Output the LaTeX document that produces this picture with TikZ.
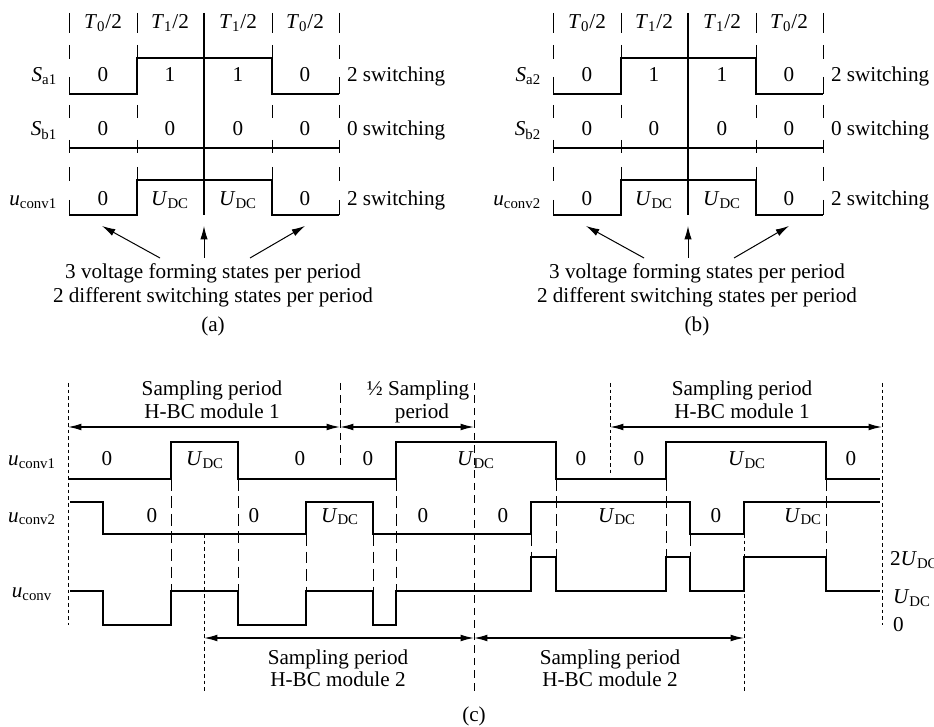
\documentclass[tikz,border=0pt]{standalone}
\usepackage{fontspec}
\setmainfont{Liberation Serif}
\usetikzlibrary{arrows.meta}

\newcommand{\ital}[2]{\textit{#1}\textsubscript{#2}}
\newcommand{\Udc}{\ital{U}{DC}}

\tikzset{
  wave/.style={line width=0.75pt},
  bound/.style={line width=0.6pt},
  lbl/.style={font=\fontsize{12.7}{15}\selectfont, inner sep=1pt, anchor=base},
  ldash/.style={line width=0.6pt, dash pattern=on 7pt off 3.5pt},
  mdash/.style={line width=0.6pt, dash pattern=on 4.5pt off 3pt},
  sdash/.style={line width=0.5pt, dash pattern=on 2.2pt off 1.8pt},
  period/.style={line width=0.75pt, {Latex[length=8pt,width=4pt]}-{Latex[length=8pt,width=4pt]}},
  pointer/.style={line width=0.6pt, -{Latex[length=8pt,width=4.4pt]}}
}

\begin{document}
\begin{tikzpicture}[x=0.6pt, y=-0.6pt]
    \useasboundingbox (0,0) rectangle (934,727);

    % Panels (a) and (b): one switching period
    \foreach \dx/\k/\pn in {0/1/a, 484/2/b}{
    \begin{scope}[shift={(\dx,0)}]
        % column boundaries
        \foreach \x in {69,137,272,339}{
            \draw[bound] (\x,13) -- (\x,33);
            \foreach \ya/\yb/\yc/\yd in {45/59/77/94, 105/118/140/153, 167/181/200/215}
                \draw[bound] (\x,\ya) -- (\x,\yb) (\x,\yc) -- (\x,\yd);
        }
        \draw[wave] (204,13) -- (204,215);

        % header
        \foreach \x/\t in {103/0,170/1,238/1,305/0}
            \node[lbl] (hd\pn\x) at (\x,29) {\ital{T}{\t}/2};

        % switching signals and output voltage
        \draw[wave] (69,94) -- (137,94) -- (137,58) -- (272,58) -- (272,94) -- (339,94);
        \draw[wave] (69,148) -- (339,148);
        \draw[wave] (69,215) -- (137,215) -- (137,180) -- (272,180) -- (272,215) -- (339,215);

        \node[lbl, anchor=base east] (Sa\pn) at (59,82) {\ital{S}{a\k}};
        \node[lbl, anchor=base east] (Sb\pn) at (59,136) {\ital{S}{b\k}};
        \node[lbl, anchor=base east] (uc\pn) at (59,206) {\ital{u}{conv\k}};

        \foreach \x/\v in {103/0,170/1,238/1,305/0}
            \node[lbl] (va\pn\x) at (\x,82) {\v};
        \foreach \x in {103,170,238,305}
            \node[lbl] (vb\pn\x) at (\x,136) {0};
        \foreach \x/\v in {103/0,170/\Udc,238/\Udc,305/0}
            \node[lbl] (vu\pn\x) at (\x,206) {\v};

        \node[lbl, anchor=base west] (swa\pn) at (345,82) {2 switching};
        \node[lbl, anchor=base west] (swb\pn) at (345,136) {0 switching};
        \node[lbl, anchor=base west] (swu\pn) at (345,206) {2 switching};

        % caption and pointers
        \node[lbl] (capa\pn) at (213,279) {3 voltage forming states per period};
        \node[lbl] (capb\pn) at (213,303) {2 different switching states per period};
        \node[lbl] (tag\pn) at (213,332) {(\pn)};

        \coordinate (tl\pn) at (160,258);
        \coordinate (tc\pn) at (204,258);
        \coordinate (tr\pn) at (250,258);
        \coordinate (hl\pn) at (102,226);
        \coordinate (hc\pn) at (204,226);
        \coordinate (hr\pn) at (305,226);
        \draw[pointer] (tl\pn) -- (hl\pn);
        \draw[pointer] (tc\pn) -- (hc\pn);
        \draw[pointer] (tr\pn) -- (hr\pn);
    \end{scope}
    }

    % Panel (c): interleaved modules
    % sampling period boundaries
    \draw[sdash] (68,383) -- (68,625);
    \draw[mdash] (340,383) -- (340,465);
    \draw[mdash] (474,383) -- (474,695);
    \draw[sdash] (610,383) -- (610,473);
    \draw[sdash] (882,383) -- (882,625);
    \draw[sdash] (204,534) -- (204,693);
    \draw[sdash] (744,534) -- (744,693);

    % edge continuations
    \foreach \x/\y in {171/591, 238/591, 396/591, 556/557, 666/557, 826/557}
        \draw[ldash] (\x,479) -- (\x,\y);
    \foreach \x/\y in {306/591, 373/591, 531/557, 690/557}
        \draw[ldash] (\x,534) -- (\x,\y);

    % waveforms
    \draw[wave] (68,479) -- (171,479) -- (171,442) -- (238,442) -- (238,479) -- (396,479)
        -- (396,442) -- (556,442) -- (556,479) -- (666,479) -- (666,442) -- (826,442)
        -- (826,479) -- (880,479);
    \draw[wave] (70,502) -- (103,502) -- (103,534) -- (306,534) -- (306,502) -- (373,502)
        -- (373,534) -- (531,534) -- (531,502) -- (690,502) -- (690,534) -- (744,534)
        -- (744,502) -- (880,502);
    \draw[wave] (70,591) -- (103,591) -- (103,625) -- (171,625) -- (171,591) -- (238,591)
        -- (238,625) -- (306,625) -- (306,591) -- (373,591) -- (373,625) -- (396,625)
        -- (396,591) -- (531,591) -- (531,557) -- (556,557) -- (556,591) -- (666,591)
        -- (666,557) -- (690,557) -- (690,591) -- (744,591) -- (744,557) -- (826,557)
        -- (826,591) -- (880,591);

    \node[lbl] (uc1) at (32,466) {\ital{u}{conv1}};
    \node[lbl] (uc2) at (32,522) {\ital{u}{conv2}};
    \node[lbl] (uc) at (32,597) {\ital{u}{conv}};

    \foreach \x/\v in {107/0, 205/\Udc, 300/0, 368/0, 476/\Udc, 581/0, 639/0, 747/\Udc, 851/0}
        \node[lbl] (ua\x) at (\x,466) {\v};
    \foreach \x/\v in {152/0, 254/0, 340/\Udc, 423/0, 503/0, 617/\Udc, 716/0, 803/\Udc}
        \node[lbl] (ub\x) at (\x,522) {\v};

    \node[lbl, anchor=base west] (lv2) at (888,565) {2\Udc};
    \node[lbl, anchor=base west] (lv1) at (891,603) {\Udc};
    \node[lbl, anchor=base west] (lv0) at (891,631) {0};

    % sampling periods
    \coordinate (p1) at (68,427);
    \coordinate (p2) at (340,427);
    \coordinate (p3) at (474,427);
    \coordinate (p4) at (610,427);
    \coordinate (p5) at (882,427);
    \coordinate (q1) at (204,638);
    \coordinate (q2) at (474,638);
    \coordinate (q3) at (744,638);
    \draw[period] (p1) -- (p2);
    \draw[period] (p2) -- (p3);
    \draw[period] (p4) -- (p5);
    \draw[period] (q1) -- (q2);
    \draw[period] (q2) -- (q3);

    \node[lbl] (s1a) at (212,396) {Sampling period};
    \node[lbl] (s1b) at (212,419) {H-BC module 1};
    \node[lbl] (s2a) at (418,396) {½ Sampling};
    \node[lbl] (s2b) at (422,419) {period};
    \node[lbl] (s3a) at (742,396) {Sampling period};
    \node[lbl] (s3b) at (742,419) {H-BC module 1};
    \node[lbl] (s4a) at (338,664) {Sampling period};
    \node[lbl] (s4b) at (338,686) {H-BC module 2};
    \node[lbl] (s5a) at (610,664) {Sampling period};
    \node[lbl] (s5b) at (610,686) {H-BC module 2};
    \node[lbl] (tagc) at (474,721) {(c)};
\end{tikzpicture}
\end{document}
